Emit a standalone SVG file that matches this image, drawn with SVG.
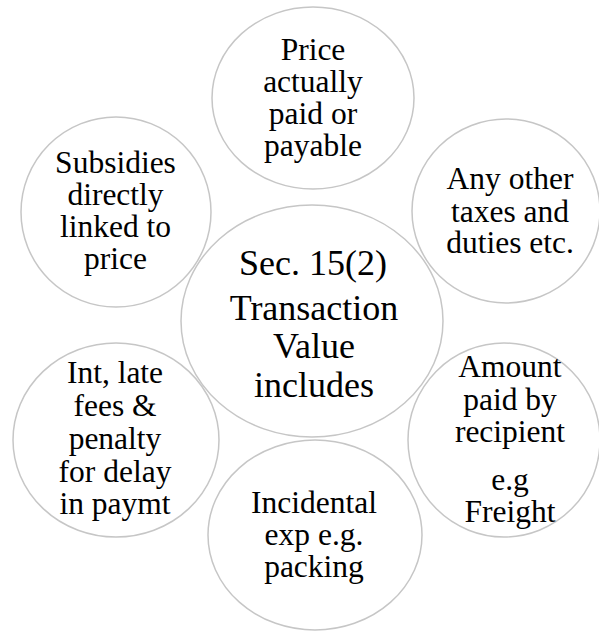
<svg xmlns="http://www.w3.org/2000/svg" width="599" height="631" viewBox="0 0 599 631">
<style>
.c{fill:none;stroke:#c6c6c6;stroke-width:1.5}
text{font-family:'Liberation Serif','Times New Roman',Times,serif;font-size:31.5px;fill:#000;text-anchor:middle}
.m{font-size:36px}
</style>
<rect width="599" height="631" fill="#fff"/>
<g id="connectors"></g>
<g id="price">
<ellipse class="c" cx="313" cy="98" rx="101" ry="91"/>
<text x="313" y="60">Price</text>
<text x="313" y="92">actually</text>
<text x="313" y="124">paid or</text>
<text x="313" y="156">payable</text>
</g>
<g id="subsidies">
<ellipse class="c" cx="116" cy="212" rx="95" ry="95"/>
<text x="115.5" y="172.5">Subsidies</text>
<text x="115.5" y="205">directly</text>
<text x="115.5" y="237">linked to</text>
<text x="115.5" y="268.5">price</text>
</g>
<g id="taxes">
<ellipse class="c" cx="506" cy="211" rx="94" ry="92"/>
<text x="510" y="189">Any other</text>
<text x="510" y="222">taxes and</text>
<text x="510" y="253">duties etc.</text>
</g>
<g id="center">
<ellipse class="c" cx="312" cy="321" rx="131" ry="116"/>
<text class="m" x="313" y="275">Sec. 15(2)</text>
<text class="m" x="314" y="320">Transaction</text>
<text class="m" x="314" y="358">Value</text>
<text class="m" x="314" y="397">includes</text>
</g>
<g id="interest">
<ellipse class="c" cx="116" cy="440" rx="103" ry="97"/>
<text x="115" y="383">Int, late</text>
<text x="115" y="416">fees &amp;</text>
<text x="115" y="449">penalty</text>
<text x="115" y="482">for delay</text>
<text x="115" y="514">in paymt</text>
</g>
<g id="amount">
<ellipse class="c" cx="504" cy="440" rx="96" ry="97"/>
<text x="510" y="377">Amount</text>
<text x="510" y="409.5">paid by</text>
<text x="510" y="442">recipient</text>
<text x="510" y="489.5">e.g</text>
<text x="510" y="522">Freight</text>
</g>
<g id="incidental">
<ellipse class="c" cx="315" cy="535" rx="107" ry="95"/>
<text x="314" y="513">Incidental</text>
<text x="314" y="545">exp e.g.</text>
<text x="314" y="577">packing</text>
</g>
</svg>
